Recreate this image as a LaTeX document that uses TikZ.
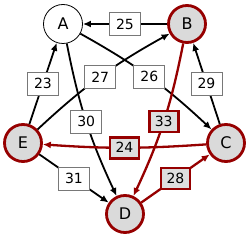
\documentclass[tikz,border=0pt]{standalone}
\usepackage{fontspec}
\setmainfont{DejaVu Sans}
\usetikzlibrary{arrows.meta}
\definecolor{dred}{RGB}{150,0,0}
\definecolor{ngray}{RGB}{218,218,218}
\definecolor{rgray}{RGB}{222,222,222}
\definecolor{lgray}{RGB}{120,120,120}
\begin{document}
\begin{tikzpicture}[x=1pt,y=1pt,
  vtx/.style={circle,draw=dred,line width=2.8pt,fill=ngray,minimum size=37pt,inner sep=0pt,font=\fontsize{16}{16}\selectfont},
  vtxw/.style={circle,draw=black,line width=0.8pt,fill=white,minimum size=39pt,inner sep=0pt,font=\fontsize{16}{16}\selectfont},
  lab/.style={rectangle,draw=lgray,line width=0.8pt,fill=white,minimum width=31pt,minimum height=23pt,inner sep=0pt,font=\fontsize{14}{14}\selectfont},
  rlab/.style={lab,draw=dred,line width=2.6pt,fill=rgray,minimum width=29pt,minimum height=21pt},
  edg/.style={line width=1.8pt,-{Latex[length=8pt,width=7pt]}},
  redg/.style={edg,draw=dred,line width=2.3pt},
]
\useasboundingbox (0,0) rectangle (250,241);
\node[vtxw] (A) at (63,217) {A};
\node[vtx] (B) at (187,217) {B};
\node[vtx] (C) at (226,98) {C};
\node[vtx] (D) at (125,27) {D};
\node[vtx] (E) at (23,98) {E};
\draw[edg] (B) -- node[lab]{25} (A);
\draw[edg] (E) -- node[lab]{23} (A);
\draw[edg] (E) to[bend left=7] node[lab]{27} (B);
\draw[edg] (A) to[bend left=7] node[lab]{26} (C);
\draw[edg] (C) -- node[lab]{29} (B);
\draw[edg] (A) to[bend right=7] node[lab]{30} (D);
\draw[redg] (B) to[bend left=7] node[rlab]{33} (D);
\draw[redg] (C) to[bend left=4] node[rlab]{24} (E);
\draw[edg] (E) -- node[lab]{31} (D);
\draw[redg] (D) -- node[rlab]{28} (C);
\end{tikzpicture}
\end{document}
